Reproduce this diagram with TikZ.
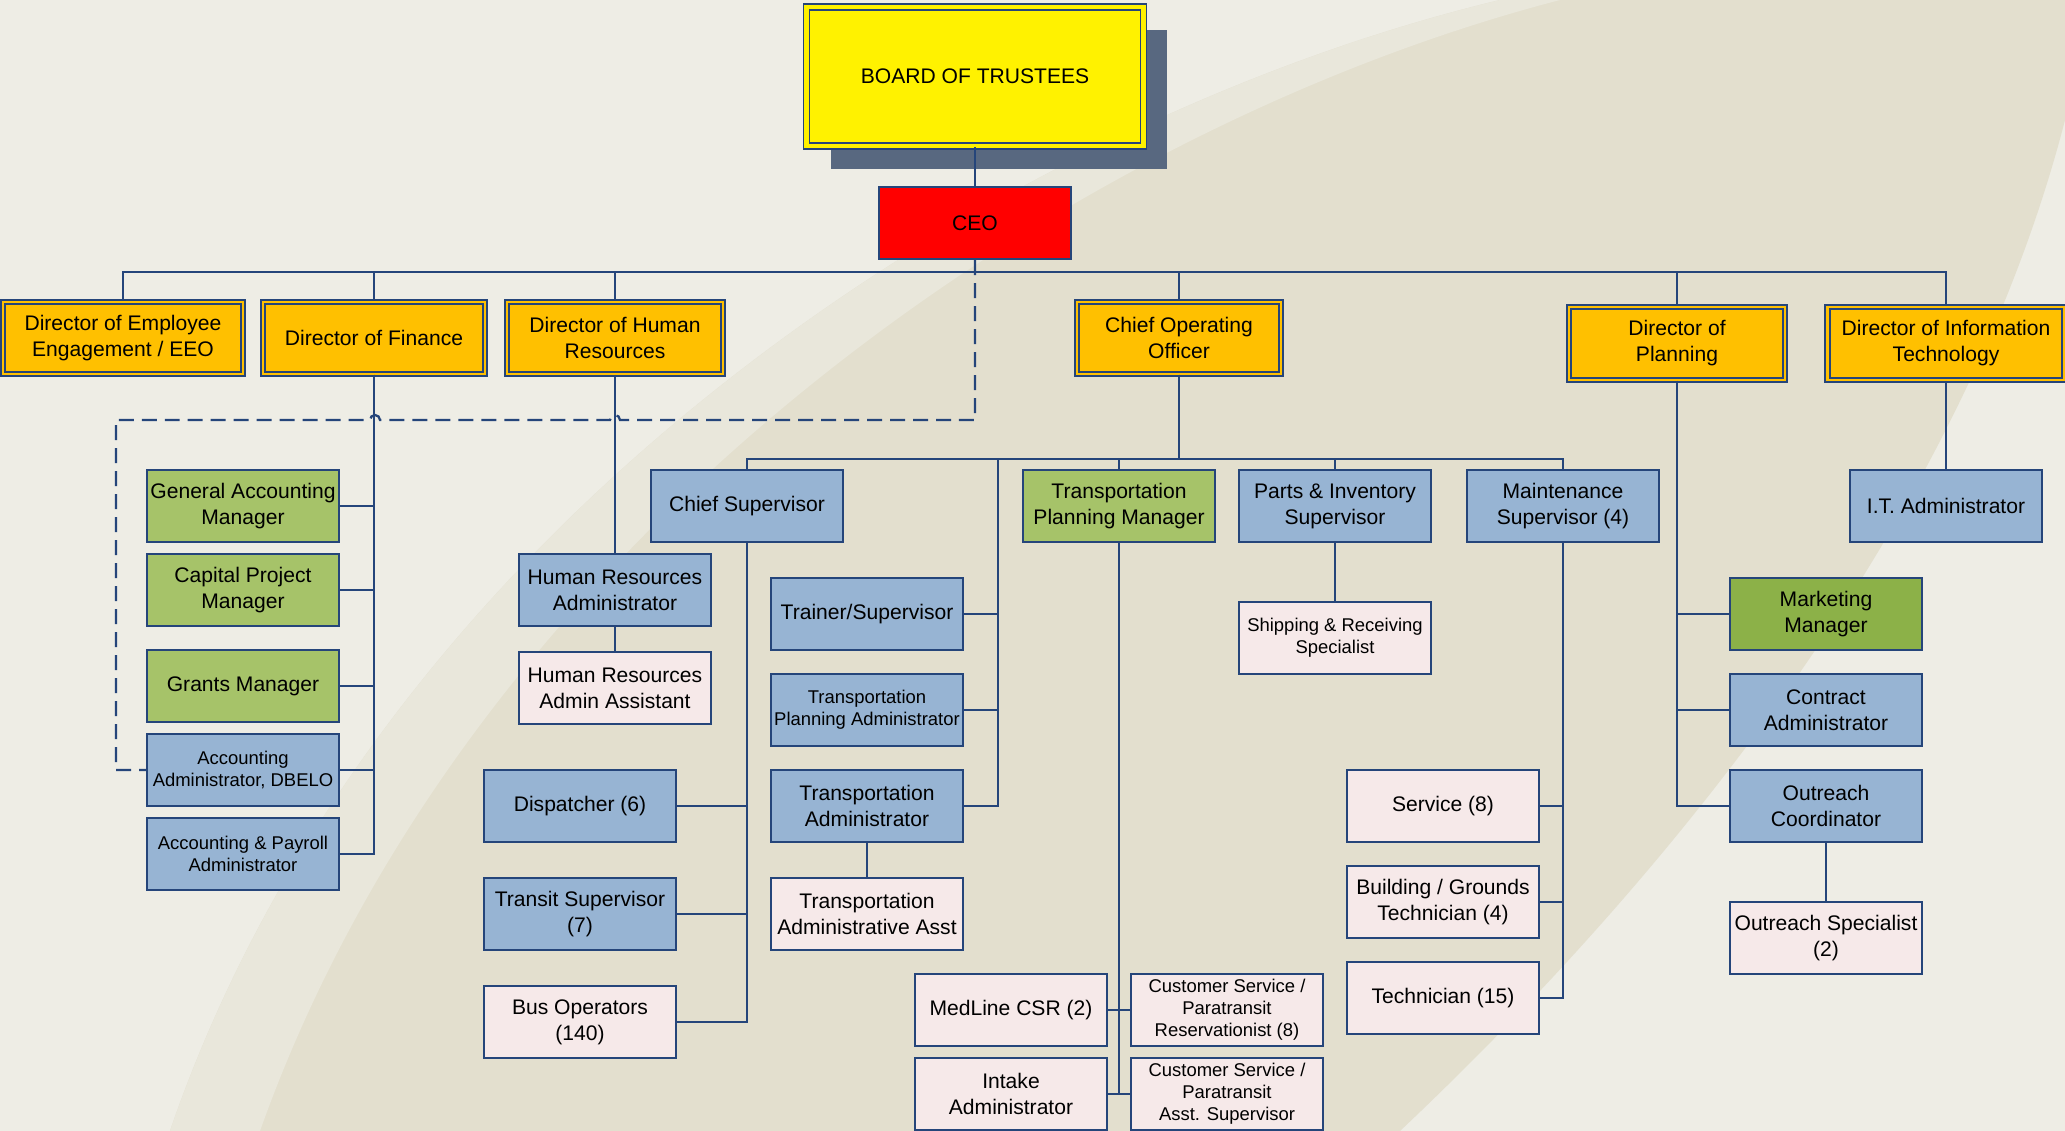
\documentclass[tikz,border=0pt]{standalone}
\usepackage{fontspec}
\setmainfont{Liberation Sans}
\usetikzlibrary{shadows}
\definecolor{edgeblue}{RGB}{37,69,122}
\definecolor{gold}{RGB}{255,192,0}
\definecolor{olivegreen}{RGB}{166,195,105}
\definecolor{mktgreen}{RGB}{140,177,72}
\definecolor{paleblue}{RGB}{151,180,211}
\definecolor{palepink}{RGB}{246,233,233}
\definecolor{slateshadow}{RGB}{88,104,128}
\definecolor{paper}{RGB}{238,237,229}
\definecolor{sweep}{RGB}{227,223,206}
\definecolor{sweeplight}{RGB}{233,231,219}
\tikzset{
    x=0.02cm, y=-0.02cm, % one unit is one pixel of the chart, y runs downwards
    }

\begin{document}
\begin{tikzpicture}[
box/.style={rectangle, draw=edgeblue, line width=1.2pt, minimum width=3.84cm, minimum height=1.44cm, align=center, inner sep=1pt, font=\fontsize{12}{14.8}\selectfont},
dirnode/.style={box, fill=gold, double=gold, double distance=1.6pt, line width=1pt},
bluenode/.style={box, fill=paleblue},
greennode/.style={box, fill=olivegreen},
pinknode/.style={box, fill=palepink},
smalltext/.style={font=\fontsize{10.5}{12.6}\selectfont},
link/.style={draw=edgeblue, line width=1.3pt},
dashlink/.style={link, dash pattern=on 0.3cm off 0.16cm},
]
\useasboundingbox (0,0) rectangle (2065,1131);
\fill[paper] (0,0) rectangle (2065,1131);
\fill[sweep] (1500,0) .. controls (1000,120) and (380,520) .. (170,1131) -- (1400,1131) .. controls (1750,800) and (1980,450) .. (2065,120) -- (2065,0) -- cycle;
\fill[sweeplight] (1500,0) .. controls (1000,120) and (380,520) .. (170,1131) -- (260,1131) .. controls (470,540) and (1060,130) .. (1560,0) -- cycle;

\node[dirnode, fill=yellow, double=yellow, double distance=2.4pt, minimum width=6.74cm, minimum height=2.78cm,
  drop shadow={shadow xshift=0.48cm, shadow yshift=-0.46cm, fill=slateshadow, opacity=1}] (board) at (975,76.5) {BOARD OF TRUSTEES};
\node[box, fill=red] (ceo) at (975,223) {CEO};

\node[dirnode, minimum width=4.8cm] (diremp) at (123,338) {Director of Employee\\Engagement / EEO};
\node[dirnode, minimum width=4.44cm] (dirfin) at (374,338) {Director of Finance};
\node[dirnode, minimum width=4.32cm] (dirhr) at (615,338) {Director of Human\\Resources};
\node[dirnode, minimum width=4.08cm] (coo) at (1179,338) {Chief Operating\\Officer};
\node[dirnode, minimum width=4.32cm, minimum height=1.46cm] (dirplan) at (1677,343.5) {Director of\\Planning};
\node[dirnode, minimum width=4.74cm, minimum height=1.46cm] (dirit) at (1946,343.5) {Director of Information\\Technology};

\node[greennode] (genacct) at (243,506) {General Accounting\\Manager};
\node[greennode] (capproj) at (243,590) {Capital Project\\Manager};
\node[greennode] (grants) at (243,686) {Grants Manager};
\node[bluenode, smalltext] (acctdbelo) at (243,770) {Accounting\\Administrator, DBELO};
\node[bluenode, smalltext] (acctpay) at (243,854) {Accounting \& Payroll\\Administrator};

\node[bluenode] (hradmin) at (615,590) {Human Resources\\Administrator};
\node[pinknode] (hrasst) at (615,688) {Human Resources\\Admin Assistant};

\node[bluenode] (chiefsup) at (747,506) {Chief Supervisor};
\node[bluenode] (dispatch) at (580,806) {Dispatcher (6)};
\node[bluenode] (transitsup) at (580,914) {Transit Supervisor\\(7)};
\node[pinknode] (busops) at (580,1022) {Bus Operators\\(140)};
\node[bluenode] (trainer) at (867,614) {Trainer/Supervisor};
\node[bluenode, smalltext] (tpadmin) at (867,710) {Transportation\\Planning Administrator};
\node[bluenode] (tadmin) at (867,806) {Transportation\\Administrator};
\node[pinknode] (taasst) at (867,914) {Transportation\\Administrative Asst};
\node[greennode] (tpm) at (1119,506) {Transportation\\Planning Manager};
\node[pinknode] (medline) at (1011,1010) {MedLine CSR (2)};
\node[pinknode] (intake) at (1011,1094) {Intake\\Administrator};
\node[pinknode, smalltext] (csres) at (1227,1010) {Customer Service /\\Paratransit\\Reservationist (8)};
\node[pinknode, smalltext] (csasst) at (1227,1094) {Customer Service /\\Paratransit\\Asst. Supervisor};
\node[bluenode] (partsinv) at (1335,506) {Parts \& Inventory\\Supervisor};
\node[pinknode, smalltext] (shiprecv) at (1335,638) {Shipping \& Receiving\\Specialist};
\node[bluenode] (maintsup) at (1563,506) {Maintenance\\Supervisor (4)};
\node[pinknode] (service) at (1443,806) {Service (8)};
\node[pinknode] (bldg) at (1443,902) {Building / Grounds\\Technician (4)};
\node[pinknode] (techn) at (1443,998) {Technician (15)};

\node[greennode, fill=mktgreen] (mktmgr) at (1826,614) {Marketing\\Manager};
\node[bluenode] (contract) at (1826,710) {Contract\\Administrator};
\node[bluenode] (outcoord) at (1826,806) {Outreach\\Coordinator};
\node[pinknode] (outspec) at (1826,938) {Outreach Specialist\\(2)};
\node[bluenode] (itadmin) at (1946,506) {I.T. Administrator};

\coordinate (trainbus) at (998,458);
\coordinate (hophr) at (620,420);
\coordinate (hopfin) at (380,420);
\coordinate (dashturn) at (116,420);

\draw[link] (board) -- (ceo);
\foreach \d in {diremp,dirfin,dirhr,coo,dirplan,dirit}
  \draw[link] (ceo.south) -- ++(0,12) -| (\d.north);
\foreach \k in {genacct,capproj,grants,acctdbelo,acctpay}
  \draw[link] (dirfin.south) |- (\k.east);
\draw[link] (dirhr) -- (hradmin);
\draw[link] (hradmin) -- (hrasst);
\foreach \k in {chiefsup,tpm,partsinv,maintsup}
  \draw[link] (coo.south) -- ++(0,84) -| (\k.north);
\foreach \k in {trainer,tpadmin,tadmin}
  \draw[link] (\k.east) -| (trainbus);
\foreach \k in {dispatch,transitsup,busops}
  \draw[link] (chiefsup.south) |- (\k.east);
\draw[link] (tadmin) -- (taasst);
\foreach \k in {medline,intake}
  \draw[link] (tpm.south) |- (\k.east);
\foreach \k in {csres,csasst}
  \draw[link] (tpm.south) |- (\k.west);
\draw[link] (partsinv) -- (shiprecv);
\foreach \k in {service,bldg,techn}
  \draw[link] (maintsup.south) |- (\k.east);
\foreach \k in {mktmgr,contract,outcoord}
  \draw[link] (dirplan.south) |- (\k.west);
\draw[link] (outcoord) -- (outspec);
\draw[link] (dirit) -- (itadmin);

% dotted-line report to the CEO
\draw[dashlink] (ceo.south) |- (hophr) arc[start angle=0, end angle=180, radius=0.1cm] -- (hopfin) arc[start angle=0, end angle=180, radius=0.1cm] -- (dashturn) |- (acctdbelo.west);
\end{tikzpicture}
\end{document}
